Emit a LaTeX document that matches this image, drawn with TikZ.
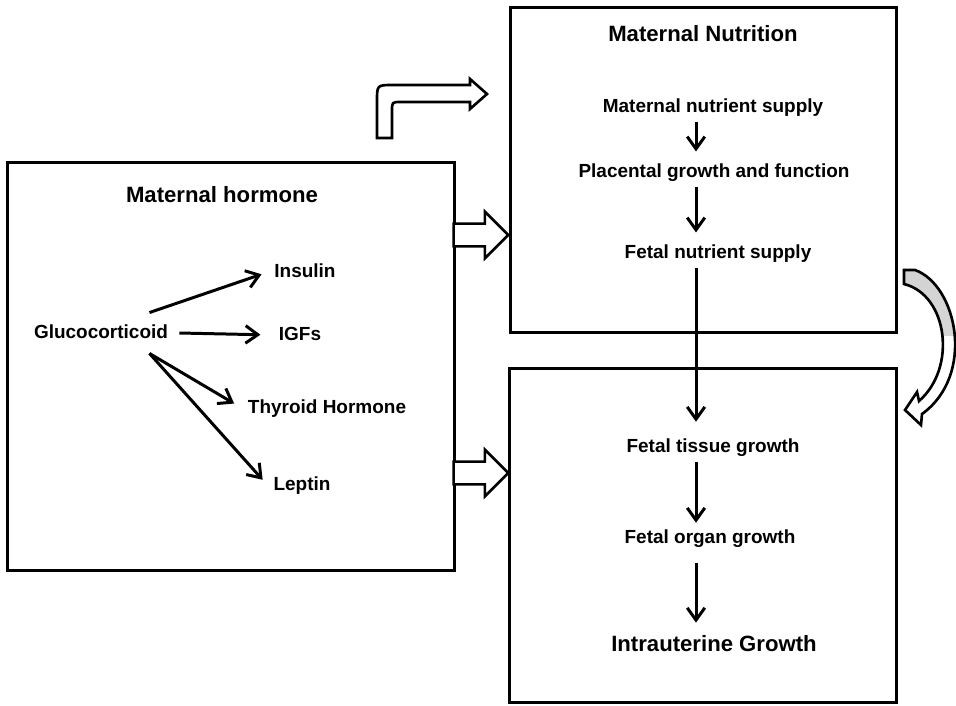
\documentclass[tikz,border=0pt]{standalone}
\usepackage{fontspec}
\setmainfont{Liberation Sans}
\usetikzlibrary{arrows.meta,shapes.arrows,calc}

\tikzset{
  panel/.style={draw, line width=1.7pt, inner sep=0pt},
  lbl/.style={font=\bfseries\fontsize{10.8}{13}\selectfont, text height=8pt, text depth=2.3pt},
  ttl/.style={font=\bfseries\fontsize{12.6}{15}\selectfont, text height=9.4pt, text depth=2.7pt},
  thin/.style={line width=1.7pt, -{Straight Barb[length=7pt,width=10pt]}},
  hollow/.style={draw, line width=1.5pt, line join=miter},
  blockarrow/.style={hollow, fill=white, single arrow, single arrow head extend=6.8pt,
    inner xsep=0pt, inner ysep=5.7pt, minimum height=31pt}
}
% outline of the curved arrow on the right
\def\arcpath{(904,270) -- (915,270) .. controls (957,285) and (976,375) .. (922,414)
  -- (921,425) -- (905,410) -- (917,392) -- (919,401) .. controls (957,368) and (948,295) .. (904,284) -- cycle}

\begin{document}
\begin{tikzpicture}[x=0.02cm, y=-0.02cm]
  \useasboundingbox (0,0) rectangle (956,706);
  % the three panels
  \node[panel, minimum width=8.96cm, minimum height=8.18cm] (hormone) at (231,366.5) {};
  \node[panel, minimum width=7.74cm, minimum height=6.52cm] (nutrition) at (703.5,170) {};
  \node[panel, minimum width=7.76cm, minimum height=6.7cm] (growth) at (703,535.5) {};

  % maternal hormone
  \node[ttl] (hormtitle) at (222,197) {Maternal hormone};
  \node[lbl, inner sep=6.3pt] (gluco) at (101,333) {Glucocorticoid};
  \node[lbl] (insulin) at (305,272) {Insulin};
  \node[lbl] (igf) at (300,335) {IGFs};
  \node[lbl] (thyroid) at (327,408) {Thyroid Hormone};
  \node[lbl] (leptin) at (302,485) {Leptin};
  \draw[thin, shorten >=4pt] ([xshift=-17pt]gluco.north east) -- (insulin.west);
  \draw[thin, shorten >=7pt] (gluco.east) -- (igf.west);
  \draw[thin, shorten >=5pt] ([xshift=-17pt]gluco.south east) -- (thyroid.west);
  \draw[thin, shorten >=4pt] ([xshift=-17pt]gluco.south east) -- (leptin.west);

  % maternal nutrition
  \coordinate (axis) at (696,0);
  \node[ttl] (nutrtitle) at (703,36) {Maternal Nutrition};
  \node[lbl] (matsupply) at (713,107) {Maternal nutrient supply};
  \node[lbl] (placenta) at (714,172) {Placental growth and function};
  \node[lbl] (fetsupply) at (718,253) {Fetal nutrient supply};
  \draw[thin, shorten >=3pt] (matsupply.south -| axis) -- (placenta.north -| axis);
  \draw[thin, shorten >=3pt] (placenta.south -| axis) -- (fetsupply.north -| axis);

  % intrauterine growth
  \node[lbl] (tissue) at (713,447) {Fetal tissue growth};
  \node[lbl] (organ) at (710,538) {Fetal organ growth};
  \node[ttl] (iug) at (714,646) {Intrauterine Growth};
  \draw[thin, shorten >=5.7pt] (fetsupply.south -| axis) -- (tissue.north -| axis);
  \draw[thin] (tissue.south -| axis) -- (organ.north -| axis);
  \draw[thin, shorten <=5.7pt, shorten >=3.7pt] (organ.south -| axis) -- (iug.north -| axis);

  % block arrows
  \node[blockarrow, anchor=tip] (toNutr) at (510,235) {};
  \node[blockarrow, anchor=tip] (toGrowth) at (510,473) {};
  \draw[hollow, fill=white] (377,138) -- (377,101) .. controls (377,85) .. (393,85) -- (470,85)
    -- (470,79) -- (487,94) -- (470,109) -- (470,102) -- (401,102) .. controls (392,102) .. (392,111)
    -- (392,138) -- cycle;
  \fill[white] \arcpath;
  \begin{scope}
    \clip (890,260) rectangle (960,335);
    \fill[top color=gray!35, bottom color=gray!28] \arcpath;
  \end{scope}
  \draw[hollow] \arcpath;
\end{tikzpicture}
\end{document}
